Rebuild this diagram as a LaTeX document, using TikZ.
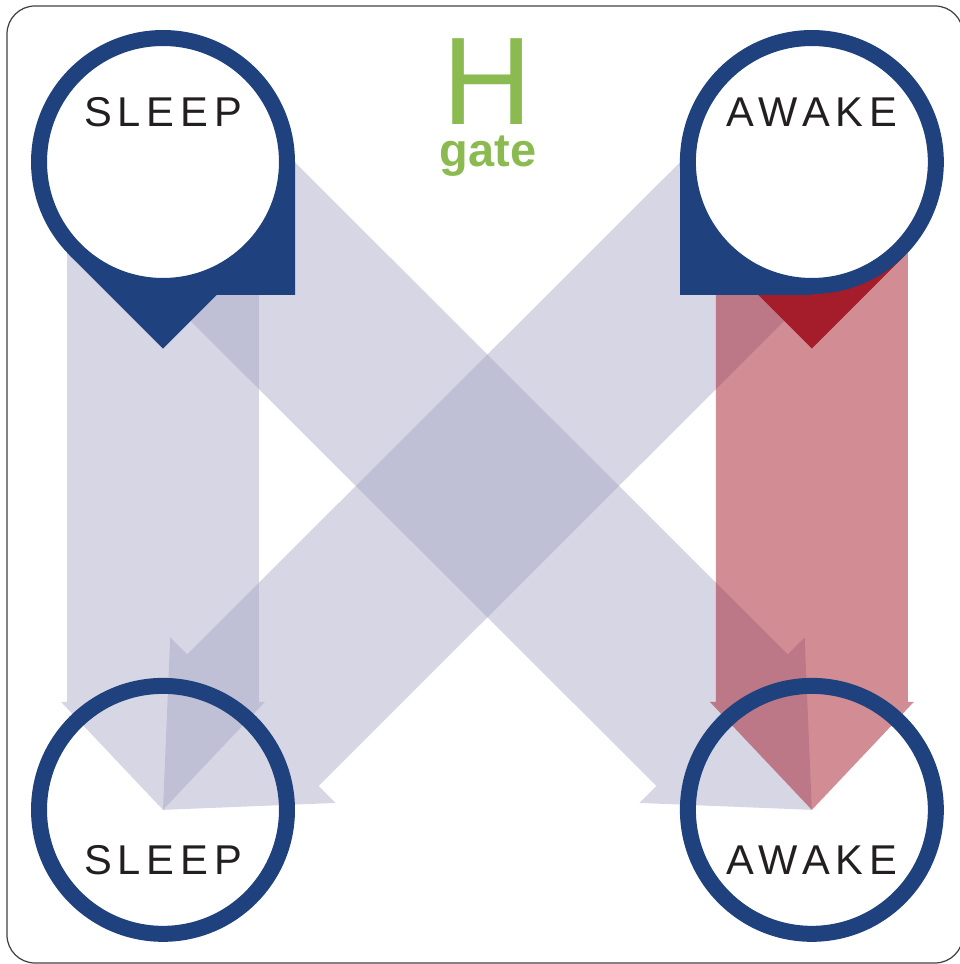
\documentclass[tikz,border=0pt]{standalone}
\usepackage{fontspec}
\setmainfont{Liberation Sans}
\newfontfamily\statefont[LetterSpace=14]{Liberation Sans}
\usetikzlibrary{positioning,calc,backgrounds}

\definecolor{ringblue}{RGB}{31,65,125}
\definecolor{lilac}{RGB}{164,164,195}
\definecolor{gatered}{RGB}{165,28,42}
\definecolor{gategreen}{RGB}{139,187,80}
\definecolor{ink}{RGB}{35,31,32}

% wide block arrow from node #2 to node #3
\newcommand{\fatarrow}[6]{%
  \coordinate (base) at ($(#3.center)!#6!(#2.center)$);
  \fill[#1] ($(#2.center)!#4!90:(#3.center)$) -- ($(base)!#4!90:(#3.center)$)
    -- ($(base)!#5!90:(#3.center)$) -- (#3.center)
    -- ($(base)!#5!-90:(#3.center)$) -- ($(base)!#4!-90:(#3.center)$)
    -- ($(#2.center)!#4!-90:(#3.center)$) -- cycle;}

\begin{document}
\begin{tikzpicture}
[x=0.02cm, y=0.02cm, node distance=12.98cm and 12.98cm, on grid,
 pinhead/.style={circle, draw=ringblue, fill=white, line width=0.32cm,
   minimum size=4.96cm, inner sep=0pt},
 ring/.style={pinhead, fill=none},
 tag/.style={font=\statefont\fontsize{23.7}{24}\selectfont, text=ink},
 flow/.style={fill=lilac, fill opacity=0.45},
 gateflow/.style={fill=gatered, fill opacity=0.5}]
\useasboundingbox (0,0) rectangle (960,964);
\draw[black!75, line width=0.7pt, rounded corners=0.56cm] (7,958) rectangle (963,1);
\node[pinhead, label={[tag,yshift=1cm]center:SLEEP}] (sleepT) at (163,802) {};
\node[pinhead, right=of sleepT, label={[tag,yshift=1cm]center:AWAKE}] (awakeT) {};
\node[ring, below=12.96cm of sleepT, label={[tag,yshift=-1cm]center:SLEEP}] (sleepB) {};
\node[ring, below=12.96cm of awakeT, label={[tag,yshift=-1cm]center:AWAKE}] (awakeB) {};
\node[anchor=base, inner sep=0pt, text=gategreen, font=\fontsize{71}{71}\selectfont]
  (hgate) at (488,839) {H};
\node[below=0.84cm of hgate.base, anchor=base, inner sep=0pt, text=gategreen,
  font=\bfseries\fontsize{26.7}{27}\selectfont] (gate) {gate};
\begin{pgfonlayer}{background}
\fatarrow{flow}{sleepT}{sleepB}{1.92cm}{2.04cm}{2.16cm}
\fatarrow{flow}{sleepT}{awakeB}{1.86cm}{2.34cm}{2.54cm}
\fatarrow{flow}{awakeT}{sleepB}{1.86cm}{2.34cm}{2.54cm}
\fatarrow{gateflow}{awakeT}{awakeB}{1.92cm}{2.04cm}{2.16cm}
% pin tails
\fill[ringblue] (sleepT.center) -- ++(-93.3,-93.3) -- ++(93.3,-93.3) -- ++(53.7,53.7)
  -- ++(78.3,0) -- ++(0,133) -- cycle;
\fill[gatered] ($(awakeT.center)+(-93.3,-93.3)$) -- ++(93.3,-93.3) -- ++(93.3,93.3) -- cycle;
\fill[ringblue] (awakeT.center) rectangle ++(-132,-133);
\end{pgfonlayer}
\end{tikzpicture}
\end{document}
